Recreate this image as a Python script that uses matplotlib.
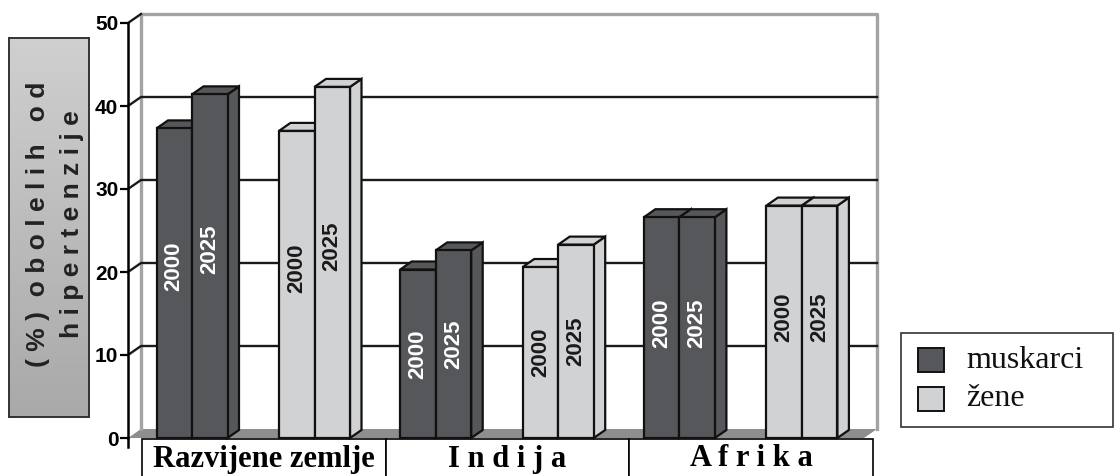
import matplotlib
matplotlib.use("Agg")
import matplotlib.pyplot as plt
from matplotlib.patches import Polygon, Rectangle
import numpy as np

groups = ["Razvijene zemlje", "I n d i j a", "A f r i k a"]
years = ["2000", "2025"]
muskarci = [[37.3, 41.4], [20.3, 22.6], [26.6, 26.6]]
zene = [[37.0, 42.3], [20.6, 23.3], [28.0, 28.0]]
series_names = ["muskarci", "žene"]
yticks = [0, 10, 20, 30, 40, 50]
ylabel_lines = ["( % )  o b o l e l i h   o d", "h i p e r t e n z i j e"]

DARK = "#56575a"
LIGHT = "#d1d2d4"
WALL = "#a3a3a3"
FLOOR = "#8e8e8e"
SANS = "Liberation Sans"
SERIF = "Liberation Serif"

W, H = 1115, 476
fig = plt.figure(figsize=(W / 100, H / 100), dpi=100)


def fx(px):
    return px / W


def fy(py):
    return 1 - py / H


# plot region (pixels)
PXG = 243.7          # pixels per category
X0 = 142             # left of first category
ax_l, ax_r, ax_t, ax_b = 128, 877, 23, 438
PXY = (ax_b - ax_t) / 50.0

ax = fig.add_axes([fx(ax_l), fy(ax_b), (ax_r - ax_l) / W, (ax_b - ax_t) / H])
xl, xr = (ax_l - X0) / PXG, (ax_r - X0) / PXG
ax.set_xlim(xl, xr)
ax.set_ylim(0, 50)
for s in ["top", "right", "bottom"]:
    ax.spines[s].set_visible(False)
ax.spines["left"].set_linewidth(1.8)
ax.patch.set_visible(False)
ax.set_xticks([])
ax.set_yticks(yticks)
ax.tick_params(axis="y", length=6, width=1.6, pad=1)
for t in ax.get_yticklabels():
    t.set_fontfamily(SANS)
    t.set_fontweight("bold")
    t.set_fontsize(15)

# 3d offsets
wdx, wdy = 13 / PXG, 9 / PXY
bdx, bdy = 11.5 / PXG, 8 / PXY
xf = xr - wdx  # front right of floor

# floor
ax.add_patch(Polygon([(xl, 0), (xf, 0), (xf + wdx, wdy), (xl + wdx, wdy)],
                     closed=True, facecolor=FLOOR, edgecolor="none",
                     clip_on=False, zorder=1))
# back wall
ax.plot([xl + wdx, xl + wdx, xr, xr], [wdy, 50 + wdy, 50 + wdy, wdy],
        color=WALL, lw=2.4, clip_on=False, zorder=1.5)
# grid lines
for v in yticks[1:]:
    xs = [xl, xl + wdx] if v == 50 else [xl, xl + wdx, xr]
    ys = [v, v + wdy] if v == 50 else [v, v + wdy, v + wdy]
    ax.plot(xs, ys, color="#1a1a1a", lw=1.7, clip_on=False, zorder=1.6)
ax.plot([xl, xl], [-1.1, 0], color="black", lw=1.8, clip_on=False)

# bars
bw = 35.5 / PXG
starts = [14.5 / PXG, 137 / PXG]
label_off = [2.0, 0.0, 0.5]
z = 3
for g in range(len(groups)):
    for s, (vals, col, tcol) in enumerate([(muskarci, DARK, "white"),
                                           (zene, LIGHT, "#1a1a1a")]):
        for k, yr in enumerate(years):
            v = vals[g][k]
            x0 = g + starts[s] + k * bw
            x1 = x0 + bw
            kw = dict(facecolor=col, edgecolor="#111111", lw=1.6,
                      joinstyle="miter", clip_on=False, zorder=z)
            ax.add_patch(Polygon([(x1, 0), (x1 + bdx, bdy), (x1 + bdx, v + bdy), (x1, v)],
                                 closed=True, **kw))
            ax.add_patch(Polygon([(x0, v), (x1, v), (x1 + bdx, v + bdy), (x0 + bdx, v + bdy)],
                                 closed=True, **kw))
            ax.add_patch(Rectangle((x0, 0), bw, v, **kw))
            ax.text((x0 + x1) / 2, v / 2 + label_off[g], yr, rotation=90,
                    ha="center", va="center", color=tcol, fontsize=16,
                    fontweight="bold", family=SANS, zorder=z + 0.5)
            z += 1

# category boxes
for g, name in enumerate(groups):
    ax.add_patch(Rectangle((g, -8), 1, 8 - 0.1, facecolor="white",
                           edgecolor="black", lw=1.2, clip_on=False, zorder=2))
    ax.text(g + 0.5, -21 / PXY, name, ha="center", va="center",
            fontsize=22, fontweight="bold", family=SERIF, zorder=3)

# y label box with gradient
axb = fig.add_axes([fx(9), fy(417), 80 / W, 379 / H])
grad = np.linspace(0.0, 1.0, 100).reshape(-1, 1)
axb.imshow(grad, aspect="auto", cmap=matplotlib.colors.LinearSegmentedColormap.from_list(
    "g", ["#cfcfcf", "#a9a9a9"]), extent=[0, 1, 0, 1])
axb.set_xticks([])
axb.set_yticks([])
for sp in axb.spines.values():
    sp.set_linewidth(1.4)
    sp.set_color("#333333")
fig.text(fx(38), fy(224), ylabel_lines[0], rotation=90, ha="center", va="center",
         fontsize=19, fontweight="bold", family=SANS, color="#222222")
fig.text(fx(72), fy(224), ylabel_lines[1], rotation=90, ha="center", va="center",
         fontsize=19, fontweight="bold", family=SANS, color="#222222")

# legend
fig.add_artist(Rectangle((fx(901), fy(427)), 212 / W, 94 / H, transform=fig.transFigure,
                         facecolor="white", edgecolor="#333333", lw=1.2))
for i, (name, col) in enumerate(zip(series_names, [DARK, LIGHT])):
    top = 348 + i * 39
    fig.add_artist(Rectangle((fx(918), fy(top + 24)), 26 / W, 24 / H,
                             transform=fig.transFigure, facecolor=col,
                             edgecolor="#111111", lw=1.4))
    fig.text(fx(966), fy(top + 12), name, ha="left", va="center",
             fontsize=23, family=SERIF, color="#111111")

fig.savefig("out.png", dpi=100)
